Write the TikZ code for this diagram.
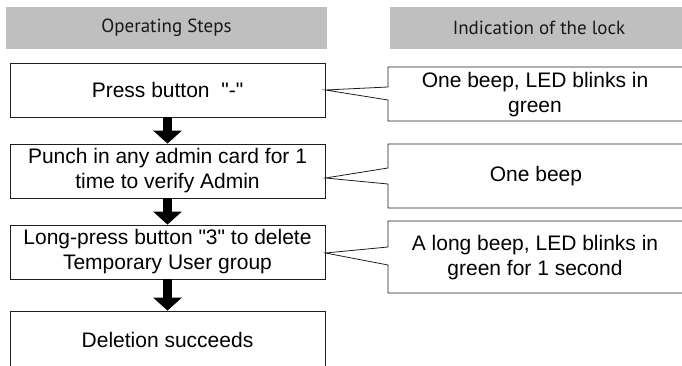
\documentclass[tikz,border=0pt]{standalone}
\usepackage{fontspec}
\setmainfont{Liberation Sans}[Ligatures=TeXOff]
\newfontfamily\headfont{PT Sans}
\usetikzlibrary{arrows.meta,calc}
\definecolor{headgray}{RGB}{191,191,191}
\definecolor{linegray}{RGB}{30,30,30}
\begin{document}
\begin{tikzpicture}[x=1pt,y=-1pt,
  header/.style={fill=headgray, draw=none, inner sep=0pt, font=\headfont\fontsize{19}{22}\selectfont, text=black!90},
  stepbox/.style={draw=linegray, line width=0.8pt, fill=white, inner sep=0pt, align=center,
     minimum width=315pt, font=\fontsize{21}{25}\selectfont},
  calltext/.style={inner sep=0pt, align=center, font=\fontsize{21}{25}\selectfont},
  flow/.style={line width=9pt, -{Triangle[width=28pt,length=13pt]}},
  callline/.style={draw=linegray, line width=0.8pt, line join=miter}]
\useasboundingbox (0,0) rectangle (682,366);
% headers
\node[header, minimum width=321pt, minimum height=42pt] (h1) at (166.5,28) {Operating Steps};
\node[header, minimum width=298pt, minimum height=42pt] (h2) at (539,28) {Indication of the lock};
% steps
\node[stepbox, minimum height=54pt] (b1) at (167.5,90) {Press button\ \ "-"};
\node[stepbox, minimum height=54pt] (b2) at (167.5,171) {Punch in any admin card for 1\\time to verify Admin};
\node[stepbox, minimum height=54pt] (b3) at (167.5,252) {Long-press button "3" to delete\\Temporary User group};
\node[stepbox, minimum height=57pt] (b4) at (167.5,339.5) {Deletion succeeds};
% flow arrows
\draw[flow] (b1.south) -- (b2.north);
\draw[flow] (b2.south) -- (b3.north);
\draw[flow] (b3.south) -- (b4.north);
% callout tips
\coordinate (t1) at (b1.east);
\coordinate (t2) at ($(b2.east)+(0,7)$);
\coordinate (t3) at ($(b3.east)+(0,1)$);
% callouts
\draw[callline] (388,87) -- (388,67) -- (686,67) -- (686,121) -- (388,121) -- (388,100) -- (t1) -- cycle;
\draw[callline] (388,168) -- (388,144) -- (686,144) -- (686,208) -- (388,208) -- (388,184) -- (t2) -- cycle;
\draw[callline] (388,247) -- (388,221) -- (686,221) -- (686,293) -- (388,293) -- (388,265) -- (t3) -- cycle;
\node[calltext] (c1) at (535,94.5) {One beep, LED blinks in\\green};
\node[calltext] (c2) at (536,176) {One beep};
\node[calltext] (c3) at (535,257.5) {A long beep, LED blinks in\\green for 1 second};
\end{tikzpicture}
\end{document}
